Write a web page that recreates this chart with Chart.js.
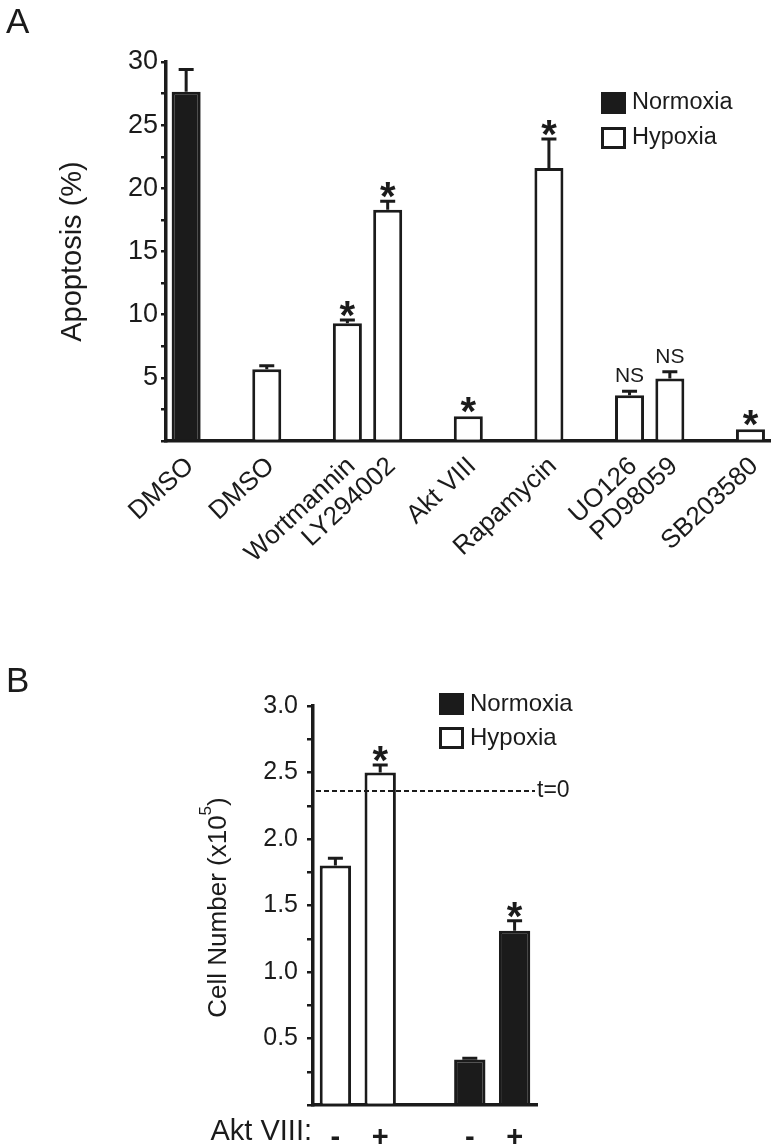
<!DOCTYPE html>
<html>
<head>
<meta charset="utf-8">
<script src="https://cdn.jsdelivr.net/npm/chart.js@4.4.0/dist/chart.umd.min.js"></script>
<style>
  body { margin: 0; background: #fff; width: 782px; height: 1147px; overflow: hidden; }
  canvas { position: absolute; left: 0; }
</style>
</head>
<body>
<canvas id="chartA" width="782" height="620" style="top:0"></canvas>
<canvas id="chartB" width="782" height="527" style="top:620px"></canvas>
<script>
// Panel A - apoptosis (%); empty labels are spacers between the groups
const labelsA = ["DMSO", "", "DMSO", "", "Wortmannin", "LY294002", "", "Akt VIII", "", "Rapamycin", "", "UO126", "PD98059", "", "SB203580"];
const normoxiaA = [27.65, null, null, null, null, null, null, null, null, null, null, null, null, null, null];
const hypoxiaA = [null, null, 5.67, null, 9.32, 18.3, null, 1.96, null, 21.6, null, 3.63, 4.95, null, 0.93];
const errorA = [1.75, null, 0.28, null, 0.26, 0.68, null, 0, null, 2.3, null, 0.31, 0.53, null, 0];
const signifA = ["", "", "", "", "*", "*", "", "*", "", "*", "", "NS", "NS", "", "*"];
const ticksA = [0, 30, 2.5];

// Panel B - cell number (x10^5)
const labelsB = ["-", "+", "", "-", "+"];
const hypoxiaB = [1.80, 2.50, null, null, null];
const normoxiaB = [null, null, null, 0.343, 1.31];
const errorB = [0.055, 0.056, null, 0.008, 0.076];
const signifB = ["", "*", "", "", "*"];
const ticksB = [0, 3, 0.25];
const startCount = 2.36; // t=0 line

const INK = "#1b1b1b";
const FONT = "'Liberation Sans', Arial, sans-serif";
Chart.defaults.font.family = FONT;
Chart.defaults.color = INK;

// error bars, stars, legend and extra labels
const extras = {
  id: "extras",
  afterDatasetsDraw(chart, args, o) {
    const { ctx, chartArea } = chart;
    const xs = chart.scales.x, ys = chart.scales.y;
    ctx.save();

    if (o.refLine != null) {
      const py = ys.getPixelForValue(o.refLine);
      ctx.setLineDash([5, 3]);
      ctx.lineWidth = 2;
      ctx.strokeStyle = INK;
      ctx.beginPath();
      ctx.moveTo(chartArea.left + 3, py);
      ctx.lineTo(chartArea.right - 2, py);
      ctx.stroke();
      ctx.setLineDash([]);
      ctx.font = "23px " + FONT;
      ctx.fillStyle = INK;
      ctx.textAlign = "left";
      ctx.textBaseline = "middle";
      ctx.fillText("t=0", chartArea.right, py);
    }

    ctx.strokeStyle = INK;
    ctx.fillStyle = INK;
    ctx.lineWidth = 3;
    ctx.textAlign = "center";
    ctx.textBaseline = "alphabetic";
    o.values.forEach((v, i) => {
      if (v == null) return;
      const px = xs.getPixelForValue(i);
      const err = o.errors[i] || 0;
      const yTop = ys.getPixelForValue(v + err);
      if (err > 0) {
        ctx.beginPath();
        ctx.moveTo(px, ys.getPixelForValue(v));
        ctx.lineTo(px, yTop);
        ctx.moveTo(px - 7.5, yTop);
        ctx.lineTo(px + 7.5, yTop);
        ctx.stroke();
      }
      const s = o.signif[i];
      if (s === "*") {
        ctx.font = "bold 40px " + FONT;
        ctx.fillText("*", px, yTop + 9);
      } else if (s) {
        ctx.font = "21px " + FONT;
        ctx.fillText(s, px, yTop - 9);
      }
    });

    // legend
    const lg = o.legend;
    ctx.font = lg.size + "px " + FONT;
    ctx.textAlign = "left";
    ctx.textBaseline = "middle";
    chart.data.datasets.forEach((ds, k) => {
      const top = lg.y + k * lg.gap;
      ctx.fillStyle = ds.backgroundColor;
      ctx.fillRect(lg.x, top, 25, 22);
      ctx.lineWidth = 3;
      ctx.strokeStyle = INK;
      ctx.strokeRect(lg.x + 1.5, top + 1.5, 22, 19);
      ctx.fillStyle = INK;
      ctx.fillText(ds.label, lg.x + 31, top + 11);
    });

    // panel letter
    ctx.font = "35px " + FONT;
    ctx.textBaseline = "alphabetic";
    ctx.fillText(o.letter.text, o.letter.x, o.letter.y);
    ctx.restore();
  }
};

// y title of panel B with superscript exponent, plus the "Akt VIII:" row caption
const yTitleB = {
  id: "yTitleB",
  afterDraw(chart) {
    const { ctx, chartArea } = chart;
    const main = "Cell Number (x10", sup = "5", close = ")";
    ctx.save();
    ctx.fillStyle = INK;
    ctx.translate(226, (chartArea.top + chartArea.bottom) / 2 + 2);
    ctx.rotate(-Math.PI / 2);
    ctx.textBaseline = "alphabetic";
    ctx.textAlign = "left";
    ctx.font = "26px " + FONT;
    const w1 = ctx.measureText(main).width, w3 = ctx.measureText(close).width;
    ctx.font = "17px " + FONT;
    const w2 = ctx.measureText(sup).width;
    let x = -(w1 + w2 + w3) / 2;
    ctx.font = "26px " + FONT;
    ctx.fillText(main, x, 0);
    x += w1;
    ctx.font = "17px " + FONT;
    ctx.fillText(sup, x, -15);
    x += w2;
    ctx.font = "26px " + FONT;
    ctx.fillText(close, x, 0);
    ctx.restore();

    ctx.save();
    ctx.fillStyle = INK;
    ctx.font = "29px " + FONT;
    ctx.textAlign = "right";
    ctx.textBaseline = "alphabetic";
    ctx.fillText("Akt VIII:", 312, chartArea.bottom + 35);
    ctx.restore();
  }
};

function barSet(label, data, fill, pct) {
  return {
    label: label, data: data,
    backgroundColor: fill, borderColor: INK, borderWidth: 3,
    barPercentage: pct, categoryPercentage: 1, grouped: false
  };
}

new Chart(document.getElementById("chartA"), {
  type: "bar",
  data: {
    labels: labelsA,
    datasets: [barSet("Normoxia", normoxiaA, INK, 0.72), barSet("Hypoxia", hypoxiaA, "#ffffff", 0.72)]
  },
  options: {
    responsive: false, animation: false,
    layout: { padding: { top: 62, right: 8, left: 0, bottom: 0 } },
    plugins: {
      legend: { display: false }, tooltip: { enabled: false },
      extras: {
        values: normoxiaA.map((v, i) => v != null ? v : hypoxiaA[i]),
        errors: errorA, signif: signifA,
        legend: { x: 601, y: 92, gap: 35, size: 23.5 },
        letter: { text: "A", x: 6, y: 33 }
      }
    },
    scales: {
      x: {
        offset: true,
        grid: { display: false, drawTicks: false },
        border: { display: true, width: 3.5, color: INK },
        ticks: {
          autoSkip: false, minRotation: 43, maxRotation: 43, padding: 10, labelOffset: 4,
          color: INK, font: { size: 26 }
        },
        afterFit: s => { s.height = 179; }
      },
      y: {
        min: ticksA[0], max: ticksA[1],
        grid: { drawOnChartArea: false, tickLength: 5, lineWidth: 2.5, color: INK },
        border: { width: 3.5, color: INK },
        ticks: {
          stepSize: ticksA[2], autoSkip: false, padding: 3, color: INK, font: { size: 27 },
          callback: v => (v % 5 === 0 && v !== 0) ? v : ""
        },
        title: { display: true, text: "Apoptosis (%)", color: INK, font: { size: 29 }, padding: { top: 56, bottom: 0 } },
        afterFit: s => { s.width = 166; }
      }
    }
  },
  plugins: [extras]
});

new Chart(document.getElementById("chartB"), {
  type: "bar",
  data: {
    labels: labelsB,
    datasets: [barSet("Normoxia", normoxiaB, INK, 0.7), barSet("Hypoxia", hypoxiaB, "#ffffff", 0.7)]
  },
  options: {
    responsive: false, animation: false,
    layout: { padding: { top: 86, right: 245, left: 0, bottom: 0 } },
    plugins: {
      legend: { display: false }, tooltip: { enabled: false },
      extras: {
        values: hypoxiaB.map((v, i) => v != null ? v : normoxiaB[i]),
        errors: errorB, signif: signifB, refLine: startCount,
        legend: { x: 439, y: 73, gap: 34, size: 24 },
        letter: { text: "B", x: 6, y: 72 }
      }
    },
    scales: {
      x: {
        offset: true,
        grid: { display: false },
        border: { display: true, width: 3.5, color: INK },
        ticks: { autoSkip: false, maxRotation: 0, padding: 8, color: INK, font: { size: 29, weight: "bold" } },
        afterFit: s => { s.height = 42; }
      },
      y: {
        min: ticksB[0], max: ticksB[1],
        grid: { drawOnChartArea: false, tickLength: 6, lineWidth: 2.5, color: INK },
        border: { width: 3.5, color: INK },
        ticks: {
          stepSize: ticksB[2], autoSkip: false, padding: 9, color: INK, font: { size: 25 },
          callback: v => (Math.abs(v * 2 - Math.round(v * 2)) < 1e-6 && v > 0) ? v.toFixed(1) : ""
        },
        afterFit: s => { s.width = 313; }
      }
    }
  },
  plugins: [extras, yTitleB]
});
</script>
</body>
</html>
